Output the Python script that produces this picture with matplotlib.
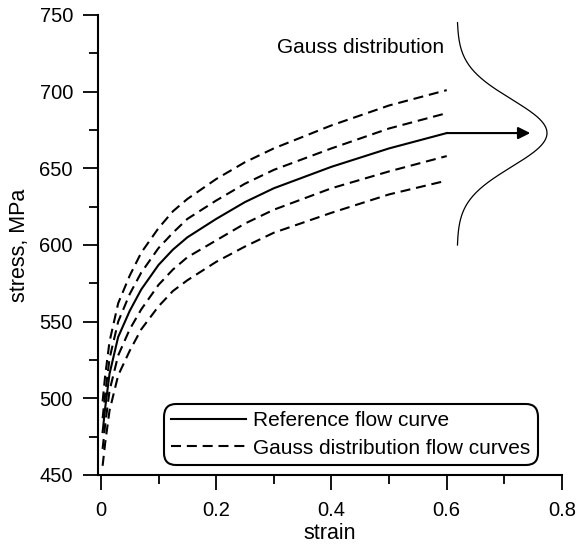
import numpy as np
import matplotlib
matplotlib.use("Agg")
import matplotlib.pyplot as plt
from matplotlib.ticker import MultipleLocator

plt.rcParams["font.family"] = ["Liberation Sans", "DejaVu Sans"]

# strain points
strain = [0.003, 0.0075, 0.015, 0.03, 0.05, 0.07, 0.1, 0.125, 0.15, 0.2, 0.25,
          0.3, 0.4, 0.5, 0.6]

# reference flow curve (MPa)
ref_curve = [478, 494, 516, 540, 557, 571, 587, 597, 605, 617, 628, 637, 651, 663, 673]

# gauss distribution flow curves (MPa)
gauss_up2 = [498, 515, 537, 562, 580, 595, 611, 622, 630, 643, 654, 663, 678, 691, 701]
gauss_up1 = [487, 503, 526, 550, 568, 582, 598, 608, 617, 629, 640, 649, 663, 676, 686]
gauss_lo1 = [467, 483, 505, 528, 545, 558, 574, 584, 592, 603, 614, 623, 637, 648, 658]
gauss_lo2 = [456, 471, 492, 515, 531, 545, 560, 570, 577, 589, 599, 608, 621, 633, 642]

# gauss bell drawn beside the curves
bell_mean = 673
bell_sigma = 22
bell_base = 0.618
bell_height = 0.156
bell_range = (600, 745)

fig = plt.figure(figsize=(5.77, 5.47), dpi=100)
ax = fig.add_axes([98 / 577, 1 - 475 / 547, 464 / 577, 460 / 547])

dash = (4.8, 2.8)
ax.plot(strain, ref_curve, color="black", lw=1.5, label="Reference flow curve")
ax.plot(strain, gauss_up2, color="black", lw=1.5, dashes=dash,
        label="Gauss distribution flow curves")
for curve in [gauss_up1, gauss_lo1, gauss_lo2]:
    ax.plot(strain, curve, color="black", lw=1.5, dashes=dash)

yy = np.linspace(bell_range[0], bell_range[1], 200)
xx = bell_base + bell_height * np.exp(-(yy - bell_mean) ** 2 / (2 * bell_sigma ** 2))
ax.plot(xx, yy, color="black", lw=0.9)

ax.annotate("", xy=(0.745, ref_curve[-1]), xytext=(strain[-1], ref_curve[-1]),
            arrowprops=dict(arrowstyle="-|>", color="black", lw=1.5,
                            mutation_scale=18, shrinkA=0, shrinkB=0))

ax.text(0.3056, 729, "Gauss distribution", fontsize=15, ha="left", va="center")

ax.set_xlim(-0.005, 0.8)
ax.set_ylim(450, 750)
ax.xaxis.set_major_locator(MultipleLocator(0.2))
ax.xaxis.set_minor_locator(MultipleLocator(0.1))
ax.yaxis.set_major_locator(MultipleLocator(50))
ax.yaxis.set_minor_locator(MultipleLocator(25))
ax.set_xticks([0, 0.2, 0.4, 0.6, 0.8])
ax.set_xticklabels(["0", "0.2", "0.4", "0.6", "0.8"])

for side in ["top", "right"]:
    ax.spines[side].set_visible(False)
for side in ["left", "bottom"]:
    ax.spines[side].set_linewidth(1.5)

ax.tick_params(which="major", direction="out", length=11, width=1.3,
               labelsize=14.5, pad=7)
ax.tick_params(which="minor", direction="out", length=6.5, width=1.3)
ax.tick_params(axis="x", which="major", pad=8)

ax.set_xlabel("strain", fontsize=15.5, labelpad=2)
ax.set_ylabel("stress, MPa", fontsize=15.5, labelpad=7)

leg = ax.legend(loc="lower right", bbox_to_anchor=(538 / 577, 1 - 465 / 547),
                bbox_transform=fig.transFigure, borderaxespad=0,
                fontsize=15, handlelength=3.6, handletextpad=0.35,
                labelspacing=0.4, borderpad=0.35, fancybox=True,
                framealpha=1, edgecolor="black")
leg.get_frame().set_linewidth(1.5)
leg.get_frame().set_boxstyle("round", pad=0.0, rounding_size=0.6)

fig.savefig("out.png", dpi=100)
